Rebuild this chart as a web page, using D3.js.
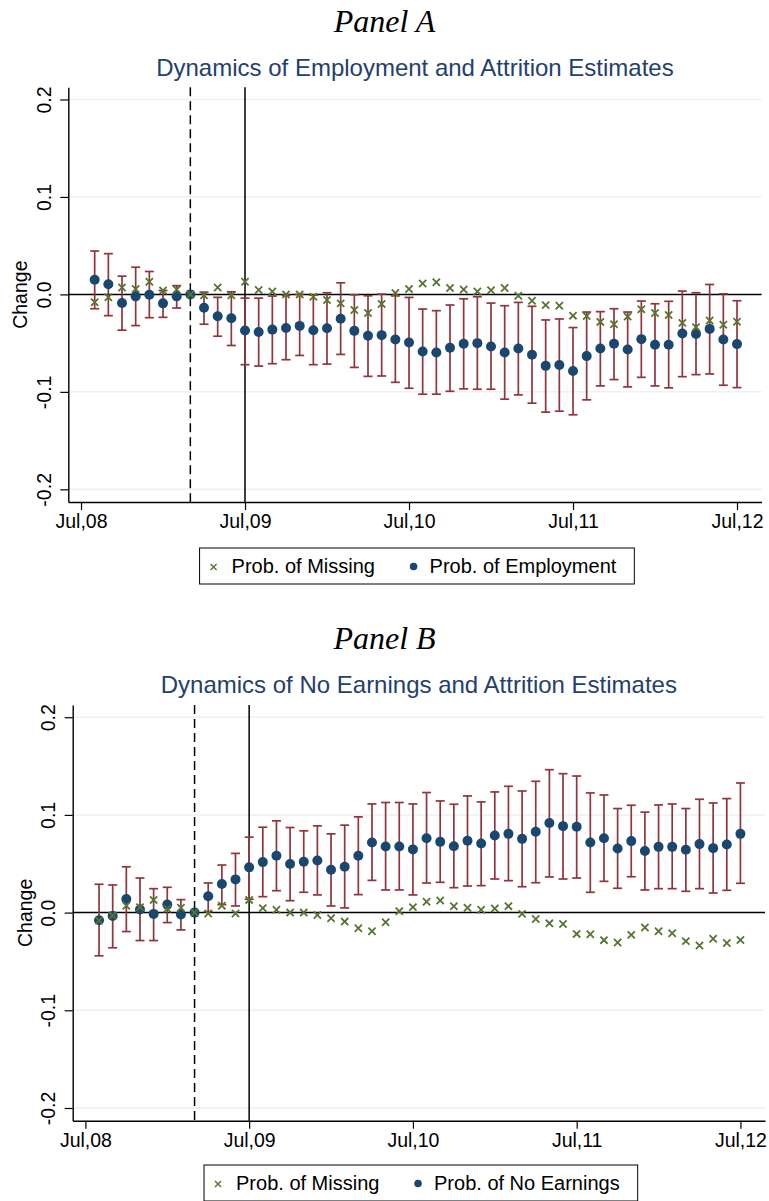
<!DOCTYPE html>
<html>
<meta charset="utf-8">
<style type="text/css">
  body { margin: 0; background: #fff; }
  text { font-family: "Liberation Sans", Arial, sans-serif; }
</style>
<body>
<div id="chart"></div>
<script src="https://cdn.jsdelivr.net/npm/d3@7"></script>
<script>
  // months since Jul 2008 (1 = Aug 08 ... 48 = Jul 12)
  const months = d3.range(1, 49);
  const refMonth = 8;      // dashed line (omitted month)
  const policyMonth = 12;  // solid line, Jul 09

  const xTicks = [0, 12, 24, 36, 48];
  const xTickLabels = ["Jul,08", "Jul,09", "Jul,10", "Jul,11", "Jul,12"];
  const yTicks = [-0.2, -0.1, 0, 0.1, 0.2];
  const yTickLabels = ["-0.2", "-0.1", "0.0", "0.1", "0.2"];

  // Prob. of Missing (same in both panels)
  const missing = [-0.008, -0.003, 0.007, 0.0055, 0.013, 0.004, 0.005, 0, -0.001, 0.007, -0.001, 0.013,
    0.0046, 0.003, 0, 0, -0.0024, -0.0058, -0.0092, -0.016, -0.019, -0.0098, 0.0015, 0.0056,
    0.0112, 0.0124, 0.0065, 0.005, 0.003, 0.0042, 0.0066, -0.0013, -0.0065, -0.011, -0.0117, -0.0218,
    -0.0221, -0.0282, -0.0306, -0.0228, -0.0152, -0.019, -0.0212, -0.0292, -0.0336, -0.0268, -0.0312, -0.028];

  // Panel A: Prob. of Employment
  const employment = [0.015, 0.0105, -0.0089, -0.002, -0.0004, -0.0092, -0.002, 0, -0.0137, -0.0225, -0.0245, -0.0371,
    -0.0385, -0.0361, -0.0344, -0.0323, -0.0368, -0.0347, -0.0249, -0.0374, -0.0425, -0.0418, -0.0463, -0.0494,
    -0.0586, -0.0596, -0.0548, -0.0507, -0.05, -0.0534, -0.0596, -0.0555, -0.0619, -0.0733, -0.0725, -0.0786,
    -0.0633, -0.0555, -0.0507, -0.0565, -0.0459, -0.0517, -0.0517, -0.0402, -0.0405, -0.0354, -0.0463, -0.051];
  const employmentLo = [-0.0147, -0.0218, -0.0367, -0.032, -0.0239, -0.0235, -0.014, null, -0.0306, -0.0429, -0.0524, -0.0721,
    -0.0735, -0.0711, -0.067, -0.0626, -0.0721, -0.0715, -0.0616, -0.0749, -0.0841, -0.0837, -0.0902, -0.0963,
    -0.1024, -0.1024, -0.0994, -0.0969, -0.0973, -0.0973, -0.1075, -0.1031, -0.1116, -0.1208, -0.1198, -0.1235,
    -0.1082, -0.0939, -0.0874, -0.0949, -0.0851, -0.0939, -0.0959, -0.0844, -0.0823, -0.0816, -0.0932, -0.0956];
  const employmentHi = [0.0445, 0.0418, 0.0187, 0.0279, 0.0235, 0.004, 0.009, null, 0.0023, -0.003, 0.0027, -0.0038,
    -0.0038, -0.0017, -0.0007, 0.0, -0.0007, 0.0017, 0.0119, -0.0004, -0.0014, 0.0003, -0.0014, -0.0031,
    -0.015, -0.0167, -0.0109, -0.0045, -0.0024, -0.0089, -0.0116, -0.0082, -0.0122, -0.0262, -0.0252, -0.034,
    -0.0181, -0.0177, -0.0147, -0.0181, -0.0068, -0.0096, -0.0071, 0.0034, 0.0017, 0.0102, 0.0006, -0.0065];

  // Panel B: Prob. of No Earnings
  const noEarnings = [-0.0078, -0.0034, 0.014, 0.0031, -0.0013, 0.0082, -0.002, 0, 0.0167, 0.0293, 0.034, 0.0463,
    0.0517, 0.0582, 0.0497, 0.052, 0.0534, 0.0439, 0.0469, 0.0582, 0.0718, 0.0677, 0.0677, 0.0647,
    0.0762, 0.0724, 0.068, 0.0735, 0.0708, 0.079, 0.0806, 0.0755, 0.0827, 0.0917, 0.0885, 0.0878,
    0.0718, 0.0762, 0.0657, 0.0732, 0.063, 0.0673, 0.0673, 0.0643, 0.0701, 0.066, 0.0698, 0.0806];
  const noEarningsLo = [-0.0442, -0.036, -0.0194, -0.0286, -0.0286, -0.0102, -0.0177, null, 0.001, 0.0082, 0.0068, 0.0137,
    0.0163, 0.0224, 0.0122, 0.0208, 0.0181, 0.0068, 0.0048, 0.0184, 0.033, 0.0232, 0.0232, 0.0181,
    0.0303, 0.031, 0.0255, 0.0272, 0.0276, 0.0344, 0.0327, 0.0265, 0.0306, 0.0365, 0.0344, 0.0354,
    0.0208, 0.032, 0.0249, 0.0367, 0.0232, 0.0245, 0.0245, 0.0218, 0.0245, 0.0201, 0.0228, 0.03];
  const noEarningsHi = [0.029, 0.0283, 0.0469, 0.0354, 0.0245, 0.0259, 0.0133, null, 0.0303, 0.0487, 0.0606, 0.0772,
    0.0874, 0.0939, 0.0871, 0.0837, 0.0888, 0.0806, 0.0895, 0.098, 0.1112, 0.1127, 0.1127, 0.1112,
    0.1229, 0.1143, 0.1109, 0.1194, 0.1133, 0.1235, 0.1293, 0.1245, 0.1344, 0.1463, 0.1422, 0.1398,
    0.1225, 0.1204, 0.1065, 0.1099, 0.1028, 0.1102, 0.1112, 0.1065, 0.116, 0.1122, 0.1167, 0.1327];

  const navy = "#1a476f", maroon = "#90353b", green = "#55752f", titleBlue = "#23406e", grid = "#eaf2f3";

  const svg = d3.select("#chart").append("svg")
    .attr("width", 769)
    .attr("height", 1201);

  const xMark = "M-3.6,-3.6L3.6,3.6M-3.6,3.6L3.6,-3.6";

  function drawPanel(p) {
    const g = svg.append("g");
    const x = d3.scaleLinear().domain([-0.93, 49.8]).range([p.left, p.right]);
    const y = d3.scaleLinear().domain([-0.213, 0.2125]).range([p.bottom, p.top]);
    const cx = (p.left + p.right) / 2;

    // titles
    g.append("text").attr("x", 384.5).attr("y", p.titleY)
      .attr("text-anchor", "middle")
      .style("font-family", "'Liberation Serif', 'Times New Roman', serif")
      .style("font-style", "italic").style("font-size", "32px")
      .text(p.title);
    g.append("text").attr("x", cx).attr("y", p.subY)
      .attr("text-anchor", "middle")
      .style("font-size", "24px").style("fill", titleBlue)
      .text(p.subtitle);

    // grid lines
    g.selectAll(".grid").data(yTicks.filter(d => d !== 0)).enter().append("line")
      .attr("x1", p.left).attr("x2", p.right)
      .attr("y1", d => y(d)).attr("y2", d => y(d))
      .style("stroke", grid).style("stroke-width", 1.5);

    // reference lines
    g.append("line").attr("x1", p.left).attr("x2", p.right)
      .attr("y1", y(0)).attr("y2", y(0))
      .style("stroke", "#000").style("stroke-width", 1.5);
    g.append("line").attr("x1", x(refMonth)).attr("x2", x(refMonth))
      .attr("y1", p.top).attr("y2", p.bottom)
      .style("stroke", "#000").style("stroke-width", 1.5).style("stroke-dasharray", "9,5");
    g.append("line").attr("x1", x(policyMonth)).attr("x2", x(policyMonth))
      .attr("y1", p.top).attr("y2", p.bottom)
      .style("stroke", "#000").style("stroke-width", 1.5);

    // axes
    const yAxis = g.append("g").attr("transform", `translate(${p.left},0)`)
      .call(d3.axisLeft(y).tickValues(yTicks).tickFormat((d, i) => yTickLabels[i]).tickSize(8).tickSizeOuter(0));
    yAxis.selectAll("text")
      .attr("x", null).attr("dy", null)
      .attr("transform", "translate(-17.5,0) rotate(-90)")
      .attr("text-anchor", "middle");
    const xAxis = g.append("g").attr("transform", `translate(0,${p.bottom})`)
      .call(d3.axisBottom(x).tickValues(xTicks).tickFormat((d, i) => xTickLabels[i]).tickSize(8).tickSizeOuter(0));
    xAxis.selectAll("text").attr("y", 12);
    g.selectAll(".domain").style("stroke", "#000").style("stroke-width", 1.4);
    g.selectAll(".tick line").style("stroke", "#000").style("stroke-width", 1.2);
    g.selectAll(".tick text").style("font-family", "'Liberation Sans', Arial, sans-serif")
      .style("font-size", "19.5px").style("fill", "#000");

    g.append("text")
      .attr("transform", `translate(${p.left - 41},${(p.top + p.bottom) / 2}) rotate(-90)`)
      .attr("text-anchor", "middle").style("font-size", "19.5px")
      .text("Change");

    // confidence intervals
    const ci = months.map((m, i) => ({ m: m, lo: p.lo[i], hi: p.hi[i] })).filter(d => d.lo !== null);
    const bars = g.append("g").style("stroke", maroon).style("stroke-width", 1.7);
    bars.selectAll(".v").data(ci).enter().append("line")
      .attr("x1", d => x(d.m)).attr("x2", d => x(d.m))
      .attr("y1", d => y(d.lo)).attr("y2", d => y(d.hi));
    bars.selectAll(".t").data(ci).enter().append("line")
      .attr("x1", d => x(d.m) - 4.5).attr("x2", d => x(d.m) + 4.5)
      .attr("y1", d => y(d.hi)).attr("y2", d => y(d.hi));
    bars.selectAll(".b").data(ci).enter().append("line")
      .attr("x1", d => x(d.m) - 4.5).attr("x2", d => x(d.m) + 4.5)
      .attr("y1", d => y(d.lo)).attr("y2", d => y(d.lo));

    // estimates
    g.selectAll(".dot").data(months).enter().append("circle")
      .attr("cx", d => x(d)).attr("cy", (d, i) => y(p.est[i]))
      .attr("r", 5).style("fill", navy);

    g.selectAll(".miss").data(months).enter().append("path")
      .attr("d", xMark)
      .attr("transform", (d, i) => `translate(${x(d)},${y(missing[i])})`)
      .style("stroke", green).style("stroke-width", 1.8).style("fill", "none");

    // legend
    const lg = g.append("g");
    const box = lg.append("rect").attr("y", p.legendY).attr("height", 36)
      .style("fill", "#fff").style("stroke", "#000").style("stroke-width", 1);
    lg.append("path").attr("d", "M-3,-3L3,3M-3,3L3,-3")
      .style("stroke", green).style("stroke-width", 1.4)
      .attr("class", "lgx");
    const t1 = lg.append("text").attr("y", p.legendY + 25).style("font-size", "20px").text("Prob. of Missing");
    lg.append("circle").attr("r", 3.8).style("fill", navy).attr("class", "lgd");
    const t2 = lg.append("text").attr("y", p.legendY + 25).style("font-size", "20px").text(p.label);
    const w = 230 + t2.node().getComputedTextLength() + 18;
    const bx = cx + 2 - w / 2;
    box.attr("x", bx).attr("width", w);
    lg.select(".lgx").attr("transform", `translate(${bx + 14},${p.legendY + 19})`);
    t1.attr("x", bx + 32);
    lg.select(".lgd").attr("cx", bx + 214).attr("cy", p.legendY + 18.5);
    t2.attr("x", bx + 230);
  }

  drawPanel({
    title: "Panel A", subtitle: "Dynamics of Employment and Attrition Estimates",
    label: "Prob. of Employment", est: employment, lo: employmentLo, hi: employmentHi,
    left: 68.3, right: 761.6, top: 87.3, bottom: 502, titleY: 32, subY: 76, legendY: 548
  });
  drawPanel({
    title: "Panel B", subtitle: "Dynamics of No Earnings and Attrition Estimates",
    label: "Prob. of No Earnings", est: noEarnings, lo: noEarningsLo, hi: noEarningsHi,
    left: 72.7, right: 765, top: 705, bottom: 1120.7, titleY: 649, subY: 693, legendY: 1165
  });
</script>
</body>
</html>
